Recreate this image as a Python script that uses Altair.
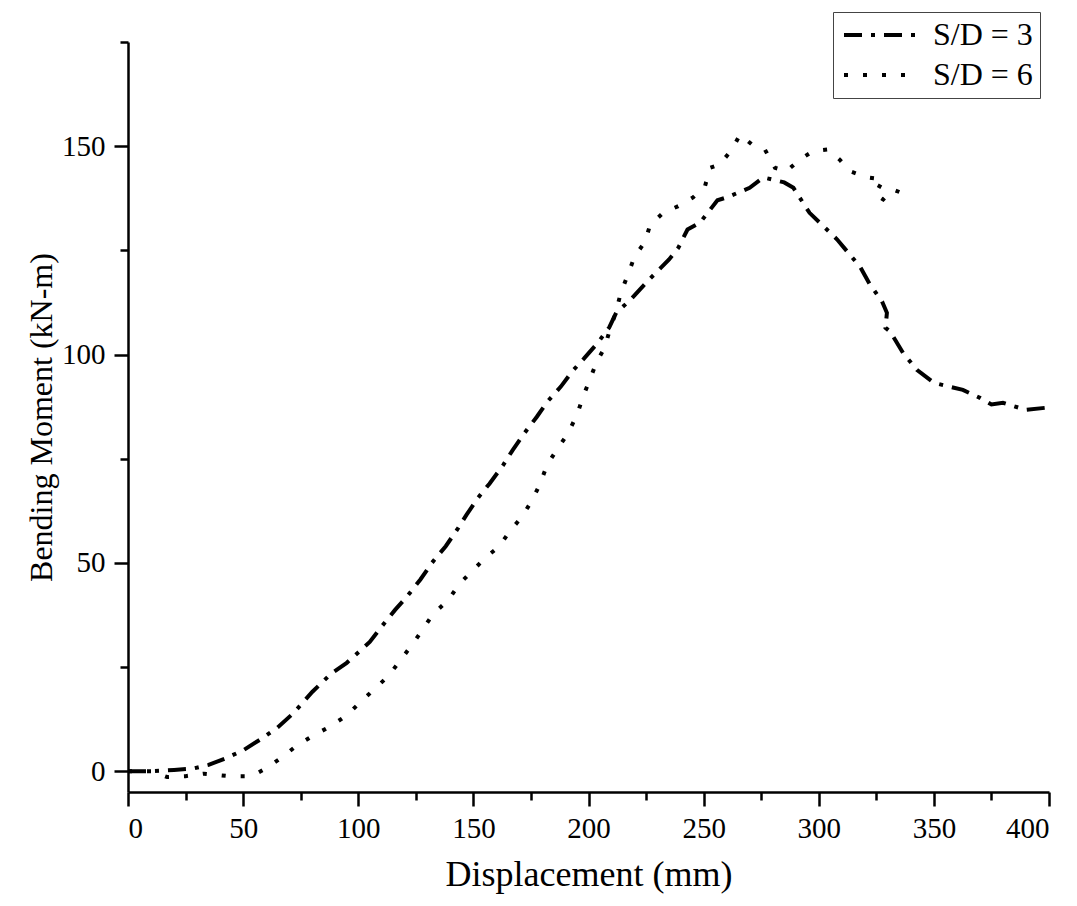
import altair as alt
import pandas as pd

# S/D = 3 (dash-dot)
sd3_x = [0, 10, 20, 28, 35, 42, 50, 58, 65, 72, 80, 88, 95, 100, 105, 110, 116, 121, 127, 132,
         138, 143, 147, 152, 157, 163, 167, 172, 177.5, 182, 188, 193, 198, 204, 209, 212, 218,
         226, 235, 239, 243, 248.5, 256, 260, 270, 276, 285, 289, 296, 302, 308, 318, 322, 327.5,
         329.6, 329, 331, 336.6, 342.6, 350, 362.6, 370, 375, 380, 390, 400]
sd3_y = [0, 0, 0.3, 0.6, 1.5, 3, 5, 7.8, 10.5, 14, 19, 23.3, 26, 28.5, 31, 34.6, 38.7, 41.8, 46, 50,
         54, 58, 61.5, 65.6, 69, 73.5, 77, 81, 85, 88.6, 92.3, 96, 99, 102.8, 106.5, 110, 113,
         117.8, 122.8, 125.6, 130, 131.7, 137, 137.7, 140, 142.5, 141.3, 140, 134, 130.8, 127.6, 121, 117, 112.7,
         110, 106.4, 105.5, 100.4, 96.3, 93.2, 91.5, 89.6, 88, 88.4, 86.7, 87.3]

# S/D = 6 (dotted)
sd6_x = [0, 10, 17, 25, 33, 44, 52, 56, 60, 66, 73, 80, 88, 95, 101, 107, 113, 118, 123.6, 128,
         132.5, 139, 144, 150, 155.5, 161, 166, 171, 175.5, 179, 182, 186.3, 191, 195, 197.7, 200.6,
         203.6, 207, 209.3, 212, 214, 217, 220, 224.5, 226.7, 232.4, 239, 245.4, 250.6, 252.8, 257,
         262.3, 265.8, 271, 276.6, 281, 286, 291.8, 297.5, 304, 309, 313.5, 321, 328, 324.4, 328,
         332.2, 335]
sd6_y = [0, 0, -1.4, -1.2, -0.6, -1.2, -1.2, -0.5, 0.7, 3, 6, 8.4, 10.8, 13.4, 16.6, 19.7, 22.8, 26.4, 30.5, 34,
         37.7, 41, 45, 48.3, 51.4, 53.8, 57.7, 61, 65, 69, 73.5, 77.2, 81, 85.5, 90, 94,
         98.3, 101.6, 106, 110.3, 114.8, 119, 123.5, 127, 131, 134, 135.6, 137.7, 140.4, 144.8, 145.6,
         149.2, 152.8, 150.4, 149.2, 144.8, 144, 146.8, 148.8, 149.2, 146.8, 144, 142.5, 142, 138.4, 137.2,
         139.6, 139]

series_names = ["S/D = 3", "S/D = 6"]
x_ticks = [0, 25, 50, 75, 100, 125, 150, 175, 200, 225, 250, 275, 300, 325, 350, 375, 400]
y_ticks = [0, 25, 50, 75, 100, 125, 150, 175]

rows = []
for i, (xv, yv) in enumerate(zip(sd3_x, sd3_y)):
    rows.append({"disp": xv, "moment": yv, "series": series_names[0], "order": i})
for i, (xv, yv) in enumerate(zip(sd6_x, sd6_y)):
    rows.append({"disp": xv, "moment": yv, "series": series_names[1], "order": i})
df = pd.DataFrame(rows)

FONT = "Liberation Serif"

major_test = "datum.value % 50 === 0"

x_axis = alt.Axis(
    values=x_ticks,
    labelExpr="datum.value % 50 === 0 ? datum.label : ''",
    tickSize={"condition": {"test": major_test, "value": 14}, "value": 8},
    title="Displacement (mm)",
    titleFontSize=36,
    titlePadding=14,
    labelFontSize=29,
    labelPadding=8,
)
y_axis = alt.Axis(
    values=y_ticks,
    labelExpr="datum.value % 50 === 0 ? datum.label : ''",
    tickSize={"condition": {"test": major_test, "value": 14}, "value": 8},
    title="Bending Moment (kN-m)",
    titleFontSize=32,
    titlePadding=3,
    labelFontSize=29,
    labelPadding=9,
)

chart = alt.Chart(df).mark_line(strokeWidth=4, color="black").encode(
    x=alt.X("disp:Q", scale=alt.Scale(domain=[0, 400], nice=False, zero=False), axis=x_axis),
    y=alt.Y("moment:Q", scale=alt.Scale(domain=[-5, 175], nice=False, zero=False), axis=y_axis),
    strokeDash=alt.StrokeDash(
        "series:N",
        scale=alt.Scale(domain=series_names, range=[[18, 9, 4, 9], [4, 15]]),
        legend=alt.Legend(
            title=None,
            orient="none",
            legendX=705,
            legendY=-30,
            strokeColor="#444",
            fillColor="white",
            padding=7,
            labelFont=FONT,
            labelFontSize=32,
            labelColor="black",
            labelOffset=61,
            symbolType="M-1,0H5",
            symbolSize=576,
            symbolStrokeWidth=4,
            symbolStrokeColor="black",
            symbolFillColor="transparent",
            rowPadding=8,
        ),
    ),
    order="order:Q",
).properties(
    width=921,
    height=750,
    autosize=alt.AutoSizeParams(type="none"),
    padding={"left": 120, "top": 34, "right": 20, "bottom": 104},
).configure_view(
    stroke=None
).configure_axis(
    grid=False,
    domainColor="black",
    domainWidth=2.5,
    tickColor="black",
    tickWidth=2.5,
    labelFont=FONT,
    labelColor="black",
    titleFont=FONT,
    titleColor="black",
    titleFontWeight="normal",
)

chart.save("out.html", embed_options={"renderer": "svg", "actions": False})
